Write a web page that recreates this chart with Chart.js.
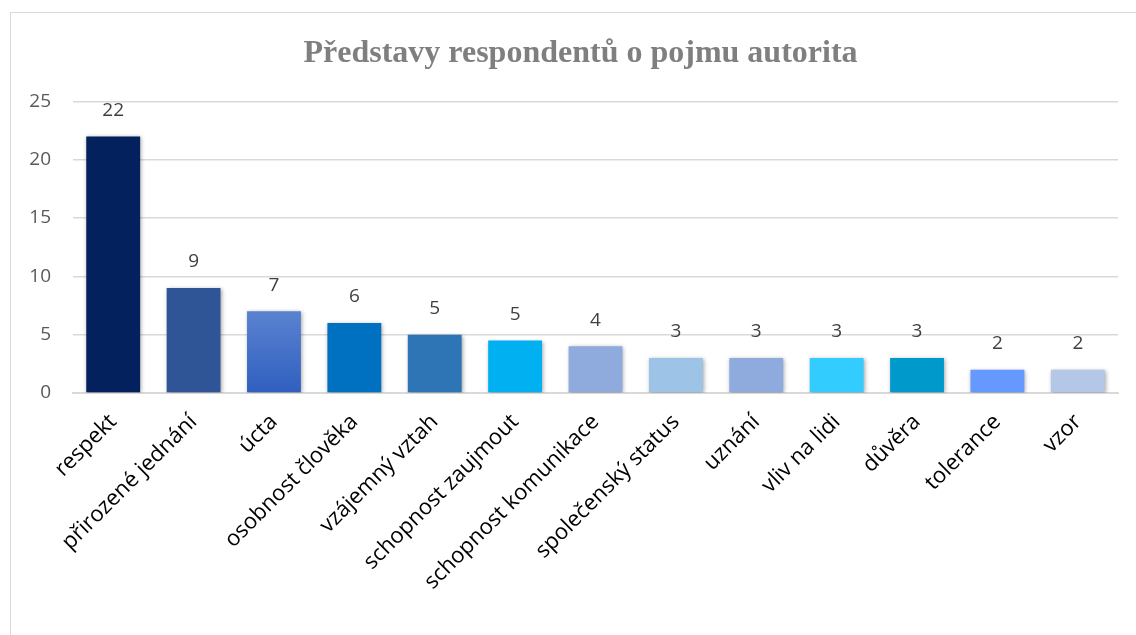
<!DOCTYPE html>
<html>
<head>
<meta charset="utf-8">
<script src="https://cdn.jsdelivr.net/npm/chart.js@4.4.1/dist/chart.umd.min.js"></script>
<style>
  body { margin: 0; background: #fff; overflow: hidden; }
  #frame { position: absolute; left: 10px; top: 12px; width: 1140px; height: 640px; border: 1px solid #d9d9d9; }
  #wrap { position: absolute; left: 11px; top: 13px; width: 1139px; height: 622px; }
</style>
</head>
<body>
<div id="frame"></div>
<div id="wrap"><canvas id="chart"></canvas></div>
<script>
// kategorie a hodnoty
const categories = ['respekt', 'přirozené jednání', 'úcta', 'osobnost člověka', 'vzájemný vztah',
  'schopnost zaujmout', 'schopnost komunikace', 'společenský status', 'uznání', 'vliv na lidi',
  'důvěra', 'tolerance', 'vzor'];
const barHeights = [22, 9, 7, 6, 5, 4.5, 4, 3, 3, 3, 3, 2, 2];
const valueLabels = ['22', '9', '7', '6', '5', '5', '4', '3', '3', '3', '3', '2', '2'];
const yTicks = [0, 5, 10, 15, 20, 25];
const barColors = ['#03215c', '#2f5597', 'gradient', '#0070c0', '#2e75b6', '#00b0f0', '#8faadc',
  '#9dc3e6', '#8faadc', '#33ccff', '#0099cc', '#6699ff', '#b4c7e7'];

const sansFont = "'Open Sans', sans-serif";

function barColor(ctx) {
  const c = barColors[ctx.dataIndex];
  if (c !== 'gradient') return c;
  const y = ctx.chart.scales.y;
  if (!y) return '#3d6bc9';
  const top = y.getPixelForValue(barHeights[ctx.dataIndex]);
  const bottom = y.getPixelForValue(0);
  if (!isFinite(top) || !isFinite(bottom) || top === bottom) return '#3d6bc9';
  const g = ctx.chart.ctx.createLinearGradient(0, top, 0, bottom);
  g.addColorStop(0, '#5a82d0');
  g.addColorStop(1, '#2f5fbf');
  return g;
}

// stin pod sloupci + popisky hodnot
const barExtras = {
  id: 'barExtras',
  beforeDatasetsDraw(chart) {
    const ctx = chart.ctx;
    ctx.save();
    ctx.shadowColor = 'rgba(0,0,0,0.35)';
    ctx.shadowBlur = 4;
    ctx.shadowOffsetX = 1;
    ctx.shadowOffsetY = 1;
  },
  afterDatasetsDraw(chart) {
    const ctx = chart.ctx;
    ctx.restore();
    const meta = chart.getDatasetMeta(0);
    ctx.save();
    ctx.font = '19px ' + sansFont;
    ctx.fillStyle = '#404040';
    ctx.textAlign = 'center';
    ctx.textBaseline = 'middle';
    meta.data.forEach((bar, i) => {
      ctx.fillText(valueLabels[i], bar.x, bar.y - 26);
    });
    ctx.restore();
  }
};

new Chart(document.getElementById('chart'), {
  type: 'bar',
  data: {
    labels: categories,
    datasets: [{
      data: barHeights,
      backgroundColor: barColor,
      categoryPercentage: 1,
      barPercentage: 0.67
    }]
  },
  options: {
    responsive: true,
    maintainAspectRatio: false,
    animation: false,
    layout: { padding: 0 },
    plugins: {
      legend: { display: false },
      tooltip: { enabled: false },
      title: {
        display: true,
        text: 'Představy respondentů o pojmu autorita',
        color: '#7f7f7f',
        font: { family: "'Liberation Serif', 'Times New Roman', serif", size: 32, weight: 'bold', lineHeight: 1.2 },
        padding: { top: 22, bottom: 28 }
      }
    },
    scales: {
      x: {
        grid: { display: false },
        border: { color: '#d9d9d9', width: 2 },
        ticks: {
          color: '#000',
          font: { family: sansFont, size: 22 },
          maxRotation: 45,
          minRotation: 45,
          padding: 8
        },
        afterFit(scale) { scale.height = 242; }
      },
      y: {
        min: 0,
        max: 25,
        afterBuildTicks(scale) { scale.ticks = yTicks.map(v => ({ value: v })); },
        grid: { color: '#d9d9d9', lineWidth: 1.5, drawTicks: false },
        border: { display: false },
        ticks: {
          color: '#595959',
          font: { family: sansFont, size: 19 },
          padding: 22
        },
        afterFit(scale) { scale.width = 62; }
      },
      // prazdna osa vpravo jen kvuli okraji
      yRight: {
        position: 'right',
        min: 0,
        max: 25,
        grid: { display: false },
        border: { display: false },
        ticks: { display: false },
        afterFit(scale) { scale.width = 32; }
      }
    }
  },
  plugins: [barExtras]
});
</script>
</body>
</html>
